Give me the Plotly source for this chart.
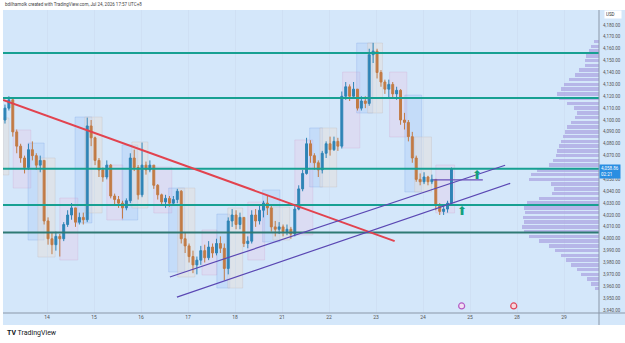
import plotly.graph_objects as go

# ---------------- data ----------------
day_labels = ["14", "15", "16", "17", "18", "21", "22", "23", "24", "25", "28", "29"]
bar_start = -0.936          # first bar's left edge, in day units (day "14" = 0)
bars_per_day = 12           # 2H candles

first_open = 4100.0
close = [4110, 4117, 4090, 4078, 4068, 4060, 4075, 4070, 4062, 4066,
         4015, 4000, 3995, 4002, 4000, 4012, 4020, 4026, 4014, 4018,
         4016, 4095, 4085, 4066, 4058, 4052, 4062, 4036, 4033, 4030,
         4026, 4032, 4068, 4060, 4037, 4062, 4058, 4062, 4045, 4037,
         4031, 4034, 4030, 4033, 4040, 4000, 3994, 3985, 3978, 3982,
         3990, 3984, 3993, 3988, 3996, 3992, 3975, 4015, 4020, 4012,
         4018, 3996, 3998, 4020, 4015, 4024, 4030, 4026, 4010, 4008,
         4010, 4006, 4008, 4004, 4025, 4042, 4055, 4080, 4070, 4064,
         4058, 4072, 4080, 4075, 4082, 4078, 4120, 4128, 4120, 4126,
         4110, 4116, 4114, 4155, 4158, 4140, 4132, 4126, 4130, 4122,
         4125, 4100, 4098, 4086, 4068, 4050, 4048, 4052, 4048, 4050,
         4028, 4023, 4025, 4030, 4058.86]
high = [4113, 4120, 4118, 4092, 4080, 4070, 4080, 4082, 4072, 4070,
        4066, 4018, 4005, 4006, 4004, 4014, 4024, 4030, 4026, 4022,
        4022, 4102, 4100, 4086, 4068, 4060, 4066, 4063, 4038, 4036,
        4032, 4034, 4072, 4075, 4062, 4081, 4065, 4066, 4062, 4046,
        4038, 4037, 4036, 4036, 4042, 4041, 4005, 3996, 3990, 3985,
        3994, 3995, 3998, 3996, 4000, 4002, 3996, 4018, 4025, 4024,
        4022, 4018, 4002, 4024, 4025, 4028, 4032, 4036, 4028, 4015,
        4014, 4012, 4012, 4010, 4028, 4045, 4058, 4085, 4083, 4072,
        4066, 4074, 4082, 4086, 4086, 4085, 4124, 4132, 4130, 4132,
        4125, 4120, 4120, 4160, 4165, 4160, 4142, 4134, 4134, 4132,
        4128, 4126, 4106, 4100, 4090, 4070, 4055, 4056, 4053, 4054,
        4050, 4030, 4028, 4032, 4060]
low = [4097, 4108, 4086, 4072, 4064, 4055, 4058, 4066, 4058, 4056,
       4012, 3995, 3987, 3990, 3985, 3998, 4010, 4016, 4010, 4012,
       4012, 4014, 4078, 4062, 4052, 4048, 4050, 4034, 4028, 4026,
       4017, 4024, 4030, 4057, 4033, 4035, 4054, 4056, 4042, 4033,
       4028, 4026, 4027, 4028, 4030, 3996, 3988, 3980, 3971, 3970,
       3978, 3980, 3982, 3984, 3986, 3988, 3965, 3970, 4010, 4008,
       4008, 3993, 3992, 3996, 4010, 4012, 4018, 4020, 4006, 4002,
       4004, 4002, 4003, 4000, 4002, 4024, 4040, 4054, 4064, 4058,
       4052, 4055, 4068, 4070, 4074, 4074, 4076, 4117, 4116, 4118,
       4108, 4108, 4110, 4112, 4148, 4135, 4128, 4122, 4118, 4118,
       4117, 4096, 4092, 4082, 4064, 4048, 4045, 4046, 4045, 4046,
       4024, 4020, 4020, 4022, 4030]

# price-scale ticks (4,060 hidden behind the last-price label)
price_ticks = [3940, 3950, 3960, 3970, 3980, 3990, 4000, 4010, 4020, 4030,
               4040, 4050, 4070, 4080, 4090, 4100, 4110, 4120, 4130, 4140,
               4150, 4160, 4170, 4180]

# horizontal support / resistance levels
level_prices = [4156.5, 4118.5, 4058.9, 4028.5, 4005.2]
level_colors = ["#17a092", "#17a092", "#17a092", "#17a092", "#2f7a74"]

# trend lines: (start bar, start price, end bar, end price)
red_line = (0.0, 4116.8, 100.0, 3998.0)
channel_upper = (42.6, 3967.8, 128.2, 4061.9)
channel_lower = (44.4, 3950.9, 129.5, 4046.6)
mid_line = (109.7, 4049.5, 122.5, 4049.5)

# session boxes: (kind, start bar, end bar, top price, bottom price)
boxes = [
    ("beige", 0.0, 1.5, 4101.7, 4053.7),
    ("pink", 2.6, 7.1, 4091.6, 4042.7),
    ("blue", 6.4, 10.5, 4080.6, 3998.9),
    ("beige", 8.9, 13.3, 4068.0, 3984.6),
    ("pink", 14.5, 19.1, 4034.3, 3982.1),
    ("blue", 18.4, 22.7, 4102.5, 4013.3),
    ("beige", 20.9, 25.3, 4102.5, 4021.7),
    ("pink", 26.5, 30.6, 4062.1, 4015.8),
    ("blue", 30.4, 34.4, 4079.0, 4015.8),
    ("beige", 32.9, 37.0, 4081.5, 4025.9),
    ("pink", 38.5, 43.1, 4060.4, 4021.7),
    ("blue", 42.3, 46.4, 4042.7, 3972.0),
    ("beige", 44.6, 49.0, 4042.7, 3967.8),
    ("pink", 50.8, 54.6, 4007.4, 3969.5),
    ("blue", 54.6, 57.9, 4020.8, 3958.5),
    ("beige", 57.4, 61.2, 4025.9, 3958.5),
    ("pink", 62.5, 66.8, 4030.9, 3982.1),
    ("blue", 66.3, 70.7, 4041.1, 3997.3),
    ("beige", 68.9, 73.2, 4026.7, 3998.9),
    ("pink", 74.5, 79.1, 4083.2, 4003.2),
    ("blue", 78.3, 81.6, 4093.3, 4043.6),
    ("beige", 80.9, 85.2, 4093.3, 4043.6),
    ("pink", 86.7, 91.1, 4140.4, 4076.4),
    ("blue", 90.3, 94.4, 4164.8, 4105.9),
    ("beige", 93.1, 96.9, 4164.8, 4105.9),
    ("pink", 98.7, 103.1, 4140.4, 4085.7),
    ("blue", 102.6, 106.9, 4121.0, 4039.4),
    ("beige", 105.1, 109.4, 4085.7, 4039.4),
    ("pink", 110.5, 115.3, 4062.1, 4021.7),
]

# volume profile
profile_price = list(range(4166, 3957, -4))
profile_volume = [5, 8, 10, 13, 14, 14, 20, 24, 30, 35,
                  38, 42, 40, 32, 25, 22, 24, 28, 32, 34,
                  36, 38, 40, 42, 43, 46, 50, 62, 68, 70,
                  48, 45, 47, 60, 72, 75, 74, 76, 75, 77,
                  75, 70, 60, 50, 44, 38, 33, 28, 22, 18,
                  12, 8, 4]

# arrows (bar, price) and event icons (bar, price)
arrow_points = [(120.9, 4053.7), (117.1, 4024.2)]
event_points = [(117.1, 3943.4), (130.4, 3943.4)]

last_price = 4058.86

# ---------------- helpers ----------------
def bx(i):
    return bar_start + i / bars_per_day

opens = [first_open] + close[:-1]
xs = [bx(i + 0.5) for i in range(len(close))]

BG = "#d4e7fa"
fig = go.Figure()

# volume profile (on overlaid axis, extends from the right)
fig.add_trace(go.Bar(
    x=profile_volume, y=profile_price, orientation="h", width=3.0,
    marker=dict(color="rgba(172,166,226,0.75)", line=dict(width=0)),
    xaxis="x2", yaxis="y", hoverinfo="skip", showlegend=False))

fig.add_trace(go.Candlestick(
    x=xs, open=opens, high=high, low=low, close=close,
    increasing=dict(line=dict(color="#2f84b6", width=1), fillcolor="#2f84b6"),
    decreasing=dict(line=dict(color="#c27b45", width=1), fillcolor="#c27b45"),
    whiskerwidth=0, showlegend=False))

shapes = []
box_style = {
    "pink": ("rgba(232,200,228,0.35)", "rgba(205,160,205,0.45)"),
    "blue": ("rgba(140,180,244,0.22)", "rgba(110,155,230,0.4)"),
    "beige": ("rgba(232,222,214,0.45)", "rgba(195,185,180,0.5)"),
}
for kind, b0, b1, top, bot in boxes:
    fill, edge = box_style[kind]
    shapes.append(dict(type="rect", xref="x", yref="y", x0=bx(b0), x1=bx(b1),
                       y0=bot, y1=top, fillcolor=fill,
                       line=dict(color=edge, width=0.6), layer="below"))

for p, c in zip(level_prices, level_colors):
    shapes.append(dict(type="line", xref="paper", yref="y", x0=0, x1=1, y0=p, y1=p,
                       line=dict(color=c, width=2)))

def seg(line, color, width):
    b0, p0, b1, p1 = line
    return dict(type="line", xref="x", yref="y", x0=bx(b0), y0=p0, x1=bx(b1), y1=p1,
                line=dict(color=color, width=width))

shapes.append(seg(red_line, "#e2434f", 2))
shapes.append(seg(channel_upper, "#5a47b3", 1.2))
shapes.append(seg(channel_lower, "#5a47b3", 1.2))
shapes.append(seg(mid_line, "#6a4fb8", 1.2))

# chart panel background (incl. price scale & time scale)
plot_top, plot_bot = 10, 313
ph = plot_bot - plot_top
pw = 596
shapes.insert(0, dict(type="rect", xref="paper", yref="paper", x0=-3 / pw + 0.005,
                      x1=(625 - 3) / pw, y0=(plot_bot - 325) / ph, y1=1,
                      fillcolor=BG, line=dict(width=0), layer="below"))
# time axis line across price scale, and price scale border
shapes.append(dict(type="line", xref="paper", yref="paper", x0=0, x1=(625 - 3) / pw,
                   y0=0, y1=0, line=dict(color="#8a97a8", width=1)))
shapes.append(dict(type="line", xref="paper", yref="paper", x0=1, x1=1,
                   y0=(plot_bot - 325) / ph, y1=1, line=dict(color="#8a97a8", width=1)))

fig.add_trace(go.Scatter(
    x=[bx(b) for b, _ in event_points], y=[p for _, p in event_points], mode="markers",
    marker=dict(symbol="circle", size=6, color=["#f3dff3", "#f6d9de"],
                line=dict(color=["#b35cc4", "#e0455a"], width=1.2)),
    hoverinfo="skip", showlegend=False))

annotations = []
for b, p in arrow_points:
    annotations.append(dict(x=bx(b), y=p, xref="x", yref="y", text="⬆", showarrow=False,
                            font=dict(size=12, color="#13a07c")))

annotations.append(dict(x=0, y=(plot_bot - 5) / ph, xref="paper", yref="paper",
                        text="bdilhamolk created with TradingView.com, Jul 24, 2026 17:57 UTC+8",
                        showarrow=False, xanchor="left", yanchor="middle",
                        font=dict(size=4.5, color="#444", family="Roboto")))
annotations.append(dict(x=2 / pw, y=(plot_bot - 333) / ph, xref="paper", yref="paper",
                        text="<b>TV</b> TradingView", showarrow=False, xanchor="left",
                        yanchor="middle", font=dict(size=7, color="#131722", family="Roboto")))
annotations.append(dict(x=(604 - 3) / pw, y=(plot_bot - 15) / ph, xref="paper", yref="paper",
                        text="USD", showarrow=False, xanchor="left", yanchor="middle",
                        bgcolor="white", borderpad=1, width=14, align="left",
                        font=dict(size=4.5, color="#333", family="Roboto")))
annotations.append(dict(x=1.0, y=last_price, xref="paper", yref="y",
                        text="%s<br>02:21" % format(last_price, ",.2f"),
                        showarrow=False, xanchor="left", yanchor="top", yshift=5,
                        bgcolor="#2a8ee2", borderpad=1, align="left",
                        font=dict(size=4.5, color="white", family="Roboto")))

y_top = 4180 + (25 - plot_top) / 1.1875
y_bot = 4180 - (plot_bot - 25) / 1.1875
x_left = (3 - 47) / 47
x_right = (599 - 47) / 47

fig.update_layout(
    width=625, height=343,
    margin=dict(l=3, r=26, t=plot_top, b=343 - plot_bot),
    paper_bgcolor="white", plot_bgcolor=BG,
    shapes=shapes, annotations=annotations,
    bargap=0,
    xaxis=dict(range=[x_left, x_right], tickvals=list(range(len(day_labels))),
               ticktext=day_labels, showgrid=True, gridcolor="rgba(200,215,235,0.4)",
               zeroline=False, showline=False, ticks="",
               tickfont=dict(size=5, color="#555", family="Roboto"),
               rangeslider=dict(visible=False), fixedrange=True),
    xaxis2=dict(overlaying="x", range=[pw, 0], visible=False, fixedrange=True),
    yaxis=dict(side="right", range=[y_bot, y_top], tickvals=price_ticks,
               ticktext=[format(v, ",.2f") for v in price_ticks],
               showgrid=False, zeroline=False, showline=False,
               ticks="", ticklabelstandoff=3,
               tickfont=dict(size=4.5, color="#555", family="Roboto")),
)

fig.write_html("out.html")
